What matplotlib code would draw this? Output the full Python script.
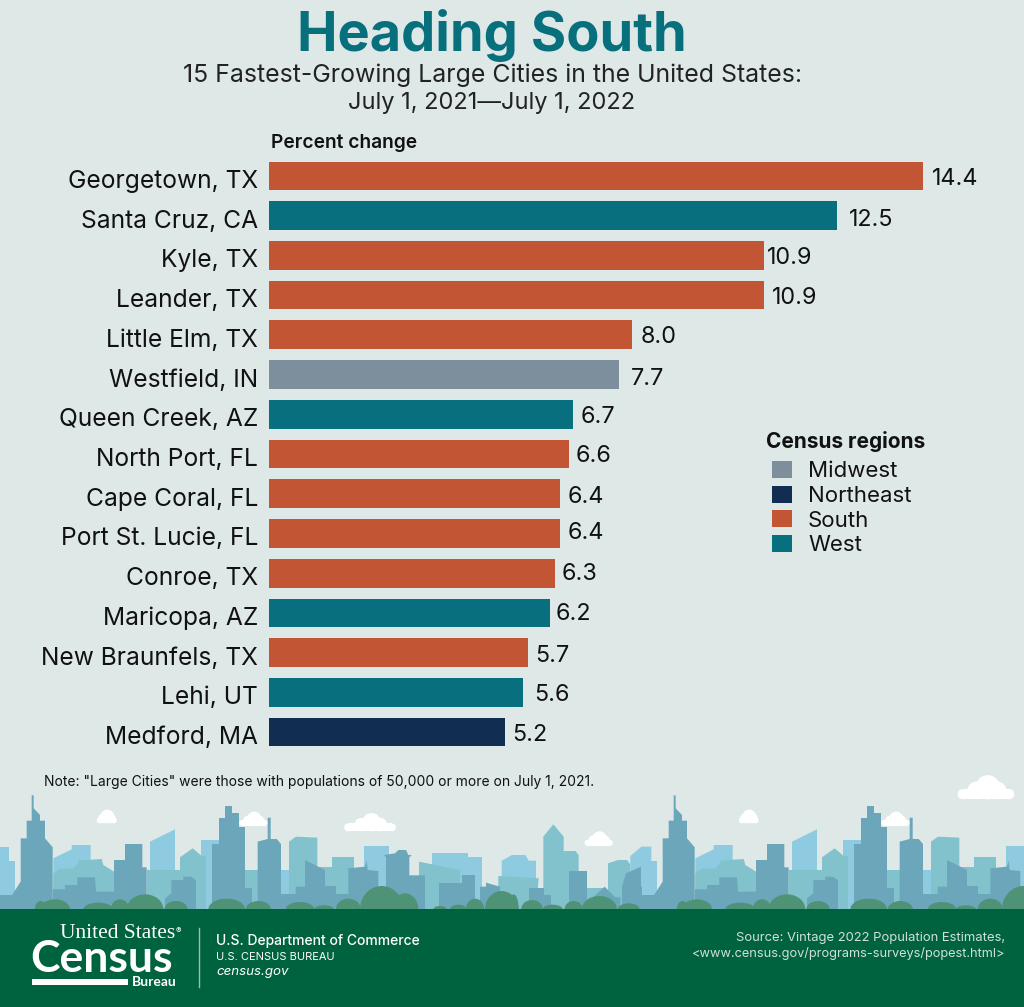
#!/usr/bin/env python3
"""
Heading South: 15 fastest-growing large cities, with the skyline footer.
"""

import matplotlib
matplotlib.use('Agg')
import matplotlib.pyplot as plt
from matplotlib.patches import Ellipse, Polygon, Patch, Rectangle
from matplotlib.transforms import ScaledTranslation

plt.rcParams['font.family'] = ['Inter', 'DejaVu Sans']

# Chart data
cities = ['Georgetown, TX', 'Santa Cruz, CA', 'Kyle, TX', 'Leander, TX', 'Little Elm, TX',
          'Westfield, IN', 'Queen Creek, AZ', 'North Port, FL', 'Cape Coral, FL',
          'Port St. Lucie, FL', 'Conroe, TX', 'Maricopa, AZ', 'New Braunfels, TX',
          'Lehi, UT', 'Medford, MA']
pct_change = [14.4, 12.5, 10.9, 10.9, 8.0, 7.7, 6.7, 6.6, 6.4, 6.4, 6.3, 6.2, 5.7, 5.6, 5.2]
regions = ['South', 'West', 'South', 'South', 'South', 'Midwest', 'West', 'South', 'South',
           'South', 'South', 'West', 'South', 'West', 'Northeast']
region_names = ['Midwest', 'Northeast', 'South', 'West']

# Styles
region_colors = {'Midwest': '#7d8f9c', 'Northeast': '#112d52', 'South': '#c25534', 'West': '#076f7e'}
BG = '#dde8e7'
TITLE = '#08707d'
FOOTER = '#00633f'
LIGHT_BLUE = '#8fcbe0'
LIGHT_TEAL = '#82c2cc'
DARK_BLUE = '#6ba6bb'
TREE = '#4f9377'
INK = '#111111'

# Hand placement of the value labels, in pixels
label_dx = [9, 12, 3, 8, 8, 12, 7, 7, 8, 8, 7, 5, 7, 11, 7]
label_dy = [3, 4, 3, 3, 2, 4, 3, 2, 3, 0, 1, 1, 3, 3, 3]

# Skyline shapes, in 1/3 pixel units from the left edge, y measured down from the 770 px line
BASE = 418
light_blue_shapes = [
    [(0, 230), (28, 230), (28, 272), (44, 272), (44, BASE), (0, BASE)],
    [(160, 265), (215, 238), (215, 225), (272, 225), (272, BASE), (160, BASE)],
    [(450, 215), (525, 178), (525, BASE), (450, BASE)],
    [(603, 210), (660, 210), (660, BASE), (603, BASE)],
    [(735, 300), (870, 300), (870, BASE), (735, BASE)],
    [(1092, 228), (1168, 228), (1168, BASE), (1092, BASE)],
    [(1295, 250), (1405, 250), (1405, 260), (1445, 260), (1445, BASE), (1295, BASE)],
    [(1505, 272), (1536, 255), (1576, 255), (1586, 272), (1608, 272), (1608, BASE), (1505, BASE)],
    [(1891, 258), (1924, 230), (1954, 230), (1954, BASE), (1891, BASE)],
]
light_teal_shapes = [
    [(160, 310), (180, 296), (220, 296), (235, 280), (235, 272), (305, 267), (310, 285),
     (342, 305), (342, BASE), (160, BASE)],
    [(440, 300), (540, 300), (540, BASE), (440, BASE)],
    [(540, 262), (578, 235), (605, 258), (618, 258), (618, BASE), (540, BASE)],
    [(735, 300), (775, 300), (775, BASE), (735, BASE)],
    [(867, 215), (888, 200), (952, 203), (952, BASE), (867, BASE)],
    [(952, 292), (995, 292), (995, 260), (1063, 260), (1063, BASE), (952, BASE)],
    [(1257, 275), (1380, 300), (1380, BASE), (1257, BASE)],
    [(1495, 318), (1616, 325), (1608, BASE), (1495, BASE)],
    [(1630, 200), (1660, 163), (1691, 200), (1691, 243), (1726, 243), (1736, 255),
     (1736, BASE), (1630, BASE)],
    [(1762, 355), (1810, 355), (1810, BASE), (1762, BASE)],
    [(1824, 280), (1854, 270), (1881, 270), (1891, 283), (1891, BASE), (1824, BASE)],
]
dark_blue_shapes = [
    [(0, 375), (36, 375), (62, 335), (62, 205), (80, 205), (80, 152), (95, 152), (95, 76),
     (101, 76), (101, 115), (120, 135), (120, 152), (135, 152), (135, 205), (158, 232),
     (158, BASE), (0, BASE)],
    [(158, 358), (195, 358), (195, 345), (232, 345), (232, 322), (285, 322), (288, 365),
     (342, 365), (342, 270), (375, 270), (375, 222), (427, 222), (427, 292), (440, 292),
     (440, BASE), (158, BASE)],
    [(495, 385), (514, 370), (514, 330), (550, 330), (550, 320), (572, 320), (588, 330),
     (588, BASE), (495, BASE)],
    [(636, 222), (656, 222), (656, 145), (676, 145), (676, 108), (696, 108), (696, 128),
     (718, 128), (718, 172), (735, 172), (735, 355), (755, 355), (755, BASE), (636, BASE)],
    [(773, 215), (803, 207), (803, 143), (812, 143), (812, 207), (830, 207), (843, 222),
     (843, 372), (887, 372), (887, 350), (915, 350), (915, 270), (975, 300), (975, 348),
     (1008, 348), (1008, 372), (1045, 372), (1045, 295), (1095, 290), (1100, 272),
     (1103, 300), (1135, 303), (1135, BASE), (773, BASE)],
    [(1158, 262), (1152, 255), (1185, 250), (1195, 240), (1218, 240), (1225, 255),
     (1235, 255), (1228, 262), (1228, 316), (1275, 316), (1275, BASE), (1158, BASE)],
    [(1316, 338), (1385, 338), (1385, 315), (1424, 315), (1424, BASE), (1316, BASE)],
    [(1440, 350), (1458, 350), (1458, 338), (1500, 350), (1500, BASE), (1440, BASE)],
    [(1586, 355), (1631, 355), (1631, 375), (1653, 375), (1653, BASE), (1586, BASE)],
    [(1706, 302), (1762, 302), (1762, BASE), (1706, BASE)],
    [(1776, 385), (1814, 350), (1846, 382), (1861, 382), (1861, BASE), (1776, BASE)],
    [(1866, 350), (1878, 310), (1923, 290), (1923, 350), (1936, 350), (1936, 375),
     (1962, 375), (1962, BASE), (1866, BASE)],
]
# centre x, width, height of the tree tops
trees = [(122, 35, 50), (165, 90, 60), (295, 90, 40), (360, 55, 60), (435, 110, 90),
         (528, 70, 50), (680, 110, 64), (775, 75, 50), (900, 85, 44), (972, 60, 24),
         (1045, 75, 64), (1145, 130, 140), (1215, 80, 96), (1320, 40, 20), (1375, 50, 28),
         (1425, 55, 64), (1505, 100, 110), (1541, 30, 90), (1596, 65, 56), (1658, 60, 28),
         (1721, 55, 50), (1798, 105, 80), (1886, 65, 36)]
# centre x, baseline y, width, height of the clouds
clouds = [(320, 160, 60, 42), (760, 168, 85, 44), (1110, 184, 155, 56), (1796, 228, 85, 45),
          (2246, 160, 60, 42), (2686, 168, 85, 44), (2958, 88, 170, 74)]


def draw_shapes(ax, shapes, color, offset):
    for shape in shapes:
        pts = [(x / 3 + offset, 770 + y / 3) for x, y in shape]
        ax.add_patch(Polygon(pts, closed=True, facecolor=color, edgecolor='none'))


def draw_trees(ax, offset):
    for cx, w, h in trees:
        ax.add_patch(Ellipse((cx / 3 + offset, 770 + BASE / 3), w / 3, h / 3,
                             facecolor=TREE, edgecolor='none'))


def draw_cloud(ax, cx, base, w, h):
    """Flat-bottomed cloud, built from a pill and a few bumps."""
    x = cx / 3
    y = 770 + base / 3
    w = w / 3
    h = h / 3
    pill = 0.42 * h
    ax.add_patch(Rectangle((x - w / 2 + pill / 2, y - pill), w - pill, pill, facecolor='white', edgecolor='none'))
    for side in (-1, 1):
        ax.add_patch(Ellipse((x + side * (w - pill) / 2, y - pill / 2), pill, pill,
                             facecolor='white', edgecolor='none'))
    # bump position along the width, diameter as a share of the height
    for dx, d in [(-0.17, 0.72), (0.03, 0.98), (0.2, 0.72)]:
        r = d * h / 2
        ax.add_patch(Ellipse((x + dx * w, y - d * h + r), 2 * r, 2 * r, facecolor='white', edgecolor='none'))


fig = plt.figure(figsize=(10.24, 10.07), dpi=100, facecolor=BG)

# Full-figure layer in pixel coordinates for the artwork and the titles
deco = fig.add_axes([0, 0, 1, 1])
deco.set_xlim(0, 1024)
deco.set_ylim(1007, 0)
deco.axis('off')

for off in (0, 642):
    draw_shapes(deco, light_blue_shapes, LIGHT_BLUE, off)
    draw_shapes(deco, light_teal_shapes, LIGHT_TEAL, off)
    draw_shapes(deco, dark_blue_shapes, DARK_BLUE, off)
    draw_trees(deco, off)
for cx, base, w, h in clouds:
    draw_cloud(deco, cx, base, w, h)
deco.add_patch(Rectangle((0, 909), 1024, 98, facecolor=FOOTER, edgecolor='none', zorder=3))

deco.text(492, 35, 'Heading South', ha='center', va='center', fontsize=39, fontweight='bold', color=TITLE)
deco.text(493, 75, '15 Fastest-Growing Large Cities in the United States:', ha='center', va='center',
          fontsize=17.9, color='#222222')
deco.text(492, 103, 'July 1, 2021\u2014July 1, 2022', ha='center', va='center', fontsize=17, color='#222222')
deco.text(271, 143, 'Percent change', ha='left', va='center', fontsize=13.8, fontweight='semibold', color=INK)
deco.text(44, 782, 'Note: "Large Cities" were those with populations of 50,000 or more on July 1, 2021.',
          ha='left', va='center', fontsize=10, color=INK)

# Footer text
serif = ['Liberation Serif', 'DejaVu Serif']
deco.text(60, 934, 'United States', family=serif, fontsize=15.5, color='white', va='center', zorder=4)
deco.text(176, 931, '\u00ae', fontsize=6, color='white', va='center', zorder=4)
deco.text(30, 959, 'Census', family='Lato', fontsize=32, fontweight='bold', color='white', va='center', zorder=4)
deco.add_patch(Rectangle((32, 979), 96, 6, facecolor='white', edgecolor='none', zorder=4))
deco.text(132, 982, 'Bureau', family='Lato', fontsize=10, fontweight='bold', color='white', va='center', zorder=4)
deco.plot([199, 199], [928, 987], color='#9dbcaa', lw=1, zorder=4)
deco.text(216, 941, 'U.S. Department of Commerce', fontsize=10, fontweight='medium', color='white', va='center', zorder=4)
deco.text(216, 957, 'U.S. CENSUS BUREAU', fontsize=7.9, color='white', va='center', zorder=4)
deco.text(216, 972, 'census.gov', fontsize=9.6, style='italic', color='white', va='center', zorder=4)
deco.text(1005, 938, 'Source: Vintage 2022 Population Estimates,', fontsize=9.4, color='#cfe0d8', ha='right',
          va='center', zorder=4)
deco.text(1005, 954, '<www.census.gov/programs-surveys/popest.html>', fontsize=9.2, color='#cfe0d8', ha='right',
          va='center', zorder=4)

# Bar chart on its own transparent axes, 45.4 px per percentage point
ax = fig.add_axes([269 / 1024, 1 - 752 / 1007, 755 / 1024, 596 / 1007])
ax.patch.set_alpha(0)
y_pos = list(range(len(cities)))
ax.barh(y_pos, pct_change, height=0.72, color=[region_colors[r] for r in regions])
ax.set_xlim(0, 755 / 45.4)
ax.set_ylim(14.5, -0.5)
ax.set_yticks(y_pos, cities)
ax.tick_params(axis='y', length=0, pad=8, labelsize=17.7, labelcolor=INK)
# city names sit a little below the bar centres
shift = ScaledTranslation(0, -3 / 100, fig.dpi_scale_trans)
for label in ax.get_yticklabels():
    label.set_transform(label.get_transform() + shift)
ax.xaxis.set_visible(False)
for spine in ax.spines.values():
    spine.set_visible(False)

for i, val in enumerate(pct_change):
    ax.annotate(f'{val:.1f}', (val, i), xytext=(label_dx[i] * 0.72, -label_dy[i] * 0.72),
                textcoords='offset points', ha='left', va='center', fontsize=16.8, color=INK)

deco.text(766, 441, 'Census regions', ha='left', va='center', fontsize=15, fontweight='bold', color=INK)
handles = [Patch(facecolor=region_colors[r], label=r) for r in region_names]
leg = fig.legend(handles=handles, loc='upper left', bbox_to_anchor=(772 / 1024, 1 - 461 / 1007),
                 frameon=False, fontsize=16, handlelength=0.9, handleheight=0.81, handletextpad=0.72,
                 labelspacing=0.195, borderaxespad=0, borderpad=0)
for text in leg.get_texts():
    text.set_color(INK)

fig.savefig('out.png', dpi=100, facecolor=BG)
